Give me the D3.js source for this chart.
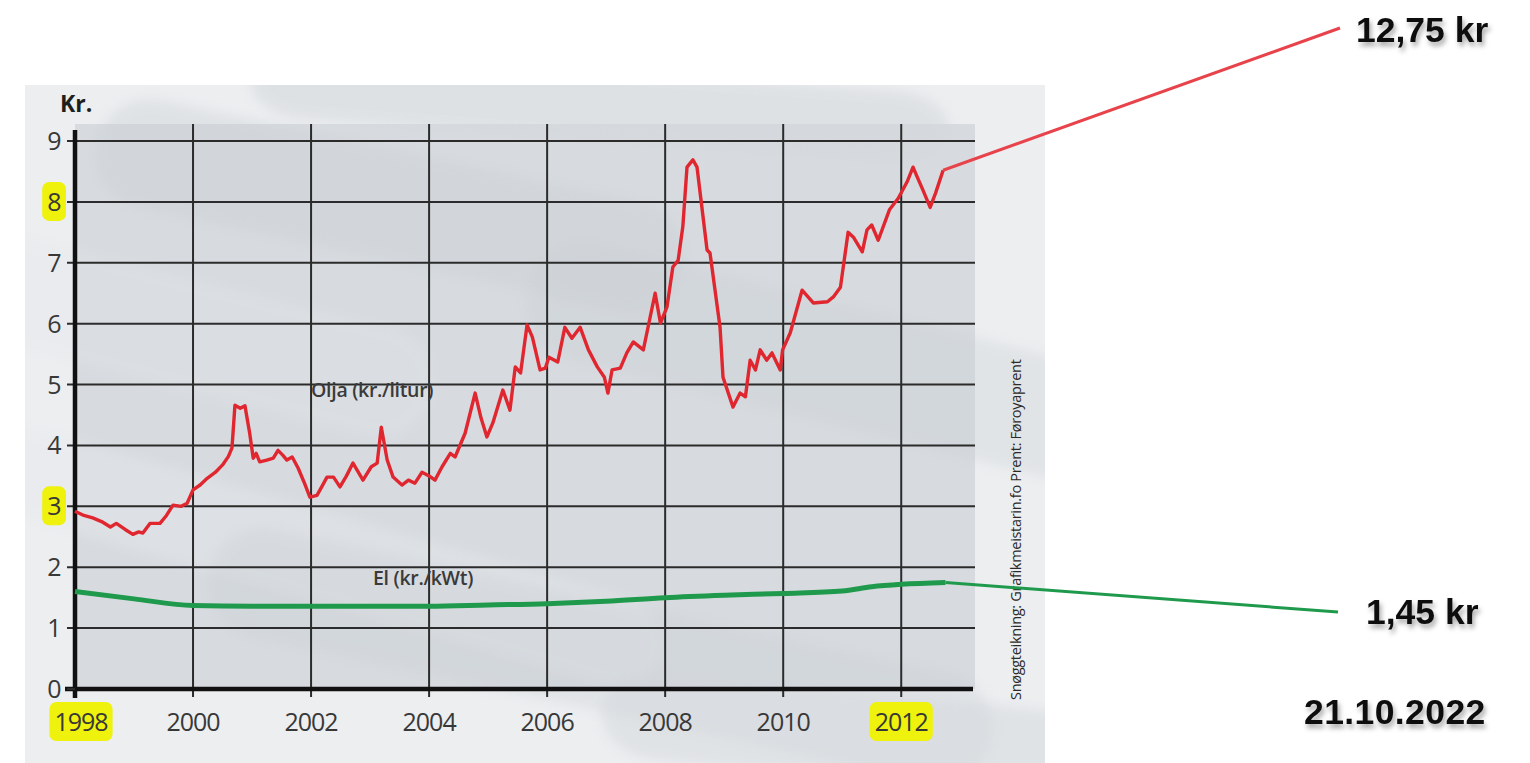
<!DOCTYPE html>
<html>
<head>
<meta charset="utf-8">
<script src="https://cdn.jsdelivr.net/npm/d3@7"></script>
<style>
  html, body { margin: 0; padding: 0; background: #ffffff; }
  svg { display: block; }
</style>
</head>
<body>
<div id="chart"></div>
<script>

// Olja (kr./litur)
const oilYears = [
    1998.00, 1998.15, 1998.30, 1998.45, 1998.60, 1998.70, 1998.85, 1998.98, 1999.08, 1999.15,
    1999.27, 1999.44, 1999.55, 1999.66, 1999.80, 1999.90, 2000.00, 2000.12, 2000.24, 2000.38,
    2000.50, 2000.60, 2000.66, 2000.71, 2000.80, 2000.88, 2000.96, 2001.02, 2001.07, 2001.13,
    2001.25, 2001.36, 2001.44, 2001.52, 2001.59, 2001.68, 2001.78, 2001.88, 2001.98, 2002.10,
    2002.18, 2002.27, 2002.38, 2002.49, 2002.60, 2002.71, 2002.88, 2003.02, 2003.12, 2003.19,
    2003.29, 2003.39, 2003.54, 2003.65, 2003.76, 2003.88, 2004.00, 2004.10, 2004.22, 2004.36,
    2004.44, 2004.61, 2004.78, 2004.88, 2004.98, 2005.08, 2005.25, 2005.37, 2005.46, 2005.55,
    2005.66, 2005.75, 2005.88, 2005.97, 2006.03, 2006.18, 2006.30, 2006.42, 2006.56, 2006.70,
    2006.85, 2006.97, 2007.03, 2007.10, 2007.24, 2007.35, 2007.46, 2007.63, 2007.83, 2007.92,
    2008.03, 2008.13, 2008.22, 2008.30, 2008.37, 2008.47, 2008.54, 2008.71, 2008.76, 2008.93,
    2008.98, 2009.15, 2009.27, 2009.36, 2009.44, 2009.53, 2009.61, 2009.72, 2009.81, 2009.95,
    2009.99, 2010.12, 2010.32, 2010.51, 2010.75, 2010.85, 2010.97, 2011.10, 2011.19, 2011.34,
    2011.42, 2011.50, 2011.61, 2011.80, 2011.95, 2012.10, 2012.20, 2012.27, 2012.37, 2012.49,
    2012.58, 2012.71
]
const oilValues = [
    2.92, 2.85, 2.81, 2.75, 2.66, 2.72, 2.62, 2.54, 2.58, 2.56,
    2.72, 2.72, 2.85, 3.02, 3.00, 3.05, 3.27, 3.35, 3.46, 3.56,
    3.68, 3.82, 3.96, 4.66, 4.61, 4.65, 4.20, 3.79, 3.87, 3.73,
    3.76, 3.79, 3.92, 3.84, 3.76, 3.81, 3.63, 3.40, 3.15, 3.18,
    3.32, 3.48, 3.48, 3.32, 3.50, 3.71, 3.43, 3.65, 3.71, 4.30,
    3.76, 3.48, 3.35, 3.43, 3.38, 3.56, 3.50, 3.43, 3.65, 3.87,
    3.81, 4.20, 4.86, 4.45, 4.14, 4.37, 4.91, 4.58, 5.29, 5.19,
    5.98, 5.78, 5.24, 5.27, 5.45, 5.37, 5.94, 5.76, 5.94, 5.57,
    5.29, 5.12, 4.86, 5.24, 5.27, 5.52, 5.70, 5.57, 6.50, 6.01,
    6.27, 6.93, 7.04, 7.60, 8.57, 8.69, 8.57, 7.21, 7.16, 5.94,
    5.12, 4.63, 4.86, 4.80, 5.40, 5.24, 5.57, 5.40, 5.52, 5.24,
    5.57, 5.85, 6.55, 6.34, 6.36, 6.44, 6.60, 7.50, 7.42, 7.18,
    7.54, 7.62, 7.37, 7.87, 8.06, 8.33, 8.57, 8.41, 8.19, 7.91,
    8.14, 8.52
]

// El (kr./kWt)
const elYears  = [1998, 1999, 2000, 2001, 2002, 2003, 2004, 2005, 2006, 2007, 2008, 2009, 2010, 2011, 2011.5, 2012, 2012.75]
const elValues = [1.60, 1.48, 1.37, 1.36, 1.36, 1.36, 1.36, 1.38, 1.40, 1.44, 1.50, 1.54, 1.57, 1.61, 1.68, 1.72, 1.75]

const xTicks = [1998, 2000, 2002, 2004, 2006, 2008, 2010, 2012]
const yTicks = [0, 1, 2, 3, 4, 5, 6, 7, 8, 9]
const highlightX = [1998, 2012]
const highlightY = [3, 8]

const seriesLabels = ['Olja (kr./litur)', 'El (kr./kWt)']
const calloutLabels = ['12,75 kr', '1,45 kr']
const dateLabel = '21.10.2022'
const yTitle = 'Kr.'
const credit = 'Snøggteikning: Grafikmeistarin.fo      Prent: Føroyaprent'

var width = 1530,
    height = 763,
    plot = {left: 75, right: 975, top: 124, bottom: 689}

var xScale = d3.scaleLinear().domain([1998, 2013.25]).range([plot.left, plot.right])
var yScale = d3.scaleLinear().domain([0, 9]).range([plot.bottom, 141])

var line = d3.line()
    .x(d => xScale(d[0]))
    .y(d => yScale(d[1]))

var oil = oilYears.map((t, i) => [t, oilValues[i]])
var el = elYears.map((t, i) => [t, elValues[i]])

var svg = d3.select('#chart')
    .append('svg')
    .attr('width', width)
    .attr('height', height)
    .attr('font-family', 'Open Sans')

var defs = svg.append('defs')

var shadow = defs.append('filter')
    .attr('id', 'shadow')
    .attr('x', '-10%').attr('y', '-30%')
    .attr('width', '130%').attr('height', '180%')
shadow.append('feDropShadow')
    .attr('dx', 2).attr('dy', 4)
    .attr('stdDeviation', 2.5)
    .attr('flood-color', '#000')
    .attr('flood-opacity', 0.35)

var blur = defs.append('filter').attr('id', 'soft')
blur.append('feGaussianBlur').attr('stdDeviation', 6)

defs.append('clipPath').attr('id', 'bgclip')
    .append('rect')
    .attr('x', 25).attr('y', 85)
    .attr('width', 1020).attr('height', 678)

// picture background with soft swooshes
var bg = svg.append('g').attr('clip-path', 'url(#bgclip)')

bg.append('rect')
    .attr('x', 25).attr('y', 85)
    .attr('width', 1020).attr('height', 678)
    .attr('fill', '#eceef0')

bg.append('rect')
    .attr('x', plot.left).attr('y', plot.top)
    .attr('width', plot.right - plot.left).attr('height', plot.bottom - plot.top)
    .attr('fill', '#d7dbdf')

var swooshes = [
    {x: 250, y: 70, w: 700, h: 70, r: 4, o: 0.55, c: '#d4d8dc'},
    {x: 90, y: 150, w: 600, h: 110, r: 12, o: 0.35, c: '#c9ced3'},
    {x: 520, y: 300, w: 600, h: 120, r: 14, o: 0.30, c: '#c9ced3'},
    {x: -60, y: 280, w: 500, h: 110, r: 14, o: 0.30, c: '#e4e7ea'},
    {x: -120, y: 500, w: 800, h: 90, r: 16, o: 0.40, c: '#e6e9ec'},
    {x: 200, y: 600, w: 800, h: 110, r: 12, o: 0.30, c: '#c9ced3'},
    {x: 600, y: 690, w: 500, h: 90, r: 6, o: 0.45, c: '#d2d6da'}
]

bg.selectAll('rect.swoosh')
    .data(swooshes)
    .join('rect')
    .attr('class', 'swoosh')
    .attr('x', d => d.x).attr('y', d => d.y)
    .attr('width', d => d.w).attr('height', d => d.h)
    .attr('rx', 55)
    .attr('fill', d => d.c)
    .attr('opacity', d => d.o)
    .attr('filter', 'url(#soft)')
    .attr('transform', d => `rotate(${d.r} ${d.x + d.w / 2} ${d.y + d.h / 2})`)

// highlighted tick labels are drawn first so the marker sits underneath
var marks = svg.append('g')

// grid
var grid = svg.append('g')
    .attr('stroke', '#2b2b2b')
    .attr('stroke-width', 2)

grid.selectAll('line.h')
    .data(yTicks.filter(d => d > 0))
    .join('line')
    .attr('class', 'h')
    .attr('x1', plot.left - 8).attr('x2', plot.right)
    .attr('y1', d => yScale(d)).attr('y2', d => yScale(d))

grid.selectAll('line.v')
    .data(xTicks.filter(d => d > 1998))
    .join('line')
    .attr('class', 'v')
    .attr('x1', d => xScale(d)).attr('x2', d => xScale(d))
    .attr('y1', plot.top).attr('y2', plot.bottom + 8)

// axes
svg.append('line')
    .attr('x1', plot.left - 10).attr('x2', plot.right - 2)
    .attr('y1', plot.bottom).attr('y2', plot.bottom)
    .attr('stroke', '#111').attr('stroke-width', 4.5)

svg.append('line')
    .attr('x1', plot.left).attr('x2', plot.left)
    .attr('y1', 130).attr('y2', plot.bottom + 9)
    .attr('stroke', '#111').attr('stroke-width', 4.5)

svg.append('line')
    .attr('x1', plot.left - 8).attr('x2', plot.left)
    .attr('y1', yScale(0)).attr('y2', yScale(0))
    .attr('stroke', '#2b2b2b').attr('stroke-width', 2)

// tick labels
var yLabels = svg.append('g')
    .selectAll('text')
    .data(yTicks)
    .join('text')
    .attr('x', plot.left - 14)
    .attr('y', d => yScale(d))
    .attr('dy', '0.36em')
    .attr('text-anchor', 'end')
    .attr('font-size', '25px')
    .attr('fill', '#383838')
    .attr('letter-spacing', '-0.5px')
    .text(d => d)

var xLabels = svg.append('g')
    .selectAll('text')
    .data(xTicks)
    .join('text')
    .attr('x', d => xScale(d) + (d === 1998 ? 6 : 0))
    .attr('y', plot.bottom + 42)
    .attr('text-anchor', 'middle')
    .attr('font-size', '25px')
    .attr('fill', '#383838')
    .attr('letter-spacing', '-1px')
    .text(d => d)

function highlight(sel, keep) {
    sel.filter(d => keep.includes(d)).each(function() {
        var b = this.getBBox()
        marks.append('rect')
            .attr('x', b.x - 5).attr('y', b.y - 2)
            .attr('width', b.width + 10).attr('height', b.height + 5)
            .attr('rx', 7)
            .attr('fill', '#eef20c')
    })
}
highlight(yLabels, highlightY)
highlight(xLabels, highlightX)

svg.append('text')
    .attr('x', plot.left - 15)
    .attr('y', 112)
    .attr('font-size', '23px')
    .attr('font-weight', 700)
    .attr('fill', '#1e1e1e')
    .text(yTitle)

// series
svg.append('path')
    .datum(el)
    .attr('fill', 'none')
    .attr('stroke', '#1f9a4c')
    .attr('stroke-width', 5)
    .attr('stroke-linejoin', 'round')
    .attr('d', line.curve(d3.curveMonotoneX))

svg.append('path')
    .datum(oil)
    .attr('fill', 'none')
    .attr('stroke', '#e0262f')
    .attr('stroke-width', 3.4)
    .attr('stroke-linejoin', 'round')
    .attr('d', line.curve(d3.curveLinear))

svg.append('text')
    .attr('x', xScale(2002.0))
    .attr('y', yScale(4.8))
    .attr('font-size', '19.5px')
    .attr('font-weight', 600)
    .attr('fill', '#3a3a3a')
    .attr('letter-spacing', '-0.3px')
    .text(seriesLabels[0])

svg.append('text')
    .attr('x', xScale(2003.05))
    .attr('y', yScale(1.71))
    .attr('font-size', '19.5px')
    .attr('font-weight', 600)
    .attr('fill', '#3a3a3a')
    .attr('letter-spacing', '-0.3px')
    .text(seriesLabels[1])

// credit along the right edge
svg.append('text')
    .attr('transform', `translate(1021,${yScale(0) + 11}) rotate(-90)`)
    .attr('font-size', '14.5px')
    .attr('fill', '#2a2a2a')
    .attr('letter-spacing', '-0.3px')
    .text(credit)

// callouts
var oilEnd = oil[oil.length - 1]
var elEnd = el[el.length - 1]

svg.append('line')
    .attr('x1', xScale(oilEnd[0])).attr('y1', yScale(oilEnd[1]))
    .attr('x2', 1340).attr('y2', 28)
    .attr('stroke', '#e8434b').attr('stroke-width', 3)

svg.append('line')
    .attr('x1', xScale(elEnd[0])).attr('y1', yScale(elEnd[1]))
    .attr('x2', 1338).attr('y2', 612)
    .attr('stroke', '#1f9a4c').attr('stroke-width', 3)

var callouts = svg.append('g')
    .attr('font-family', 'Liberation Sans, Arial, sans-serif')
    .attr('font-weight', 700)
    .attr('font-size', '35.5px')
    .attr('fill', '#111')
    .attr('filter', 'url(#shadow)')

callouts.append('text').attr('x', 1356).attr('y', 42).text(calloutLabels[0])
callouts.append('text').attr('x', 1366).attr('y', 624).text(calloutLabels[1])
callouts.append('text').attr('x', 1304).attr('y', 724).attr('letter-spacing', '0.4px').text(dateLabel)

</script>
</body>
</html>
